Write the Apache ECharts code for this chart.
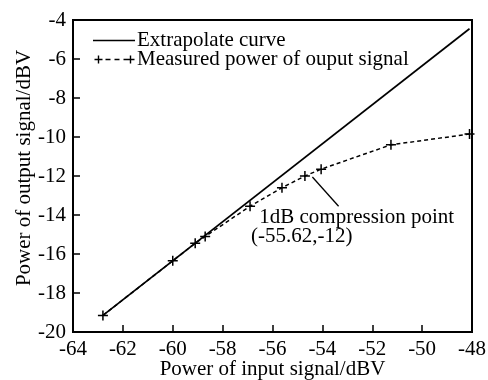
<!DOCTYPE html>
<html>
<head>
<meta charset="utf-8">
<script src="https://cdn.jsdelivr.net/npm/echarts@6/dist/echarts.min.js"></script>
<style>
  html, body { margin: 0; padding: 0; background: #fff; }
  #chart { width: 488px; height: 380px; }
</style>
</head>
<body>
<div id="chart"></div>
<script>
// values
const extrapolateX = [-62.8, -48.1];
const extrapolateY = [-19.15, -4.45];

const measuredX = [-62.8, -60, -59.1, -58.7, -56.9, -55.62, -54.7, -54.05, -51.25, -48.1];
const measuredY = [-19.15, -16.35, -15.45, -15.1, -13.55, -12.6, -12.0, -11.65, -10.4, -9.85];

const pointerX = [-54.4, -53.35];
const pointerY = [-12.05, -13.55];

const noteLines = ["1dB compression point", "(-55.62,-12)"];
const noteX = [-56.53, -56.86];
const noteY = [-14.15, -15.11];

const zip = (xs, ys) => xs.map((x, i) => [x, ys[i]]);

const FONT = "Liberation Serif";
const plus = "path://M4.25,0H5.75V4.25H10V5.75H5.75V10H4.25V5.75H0V4.25H4.25Z";

// legend icons drawn in a 42x10 box
const plusAt = (cx) =>
  `M${cx - 0.7},1H${cx + 0.7}V4.3H${cx + 4}V5.7H${cx + 0.7}V9H${cx - 0.7}V5.7H${cx - 4}V4.3H${cx - 0.7}Z`;
const solidIcon = "path://M0,0H0.01V10H0ZM0,4.2H42V5.8H0Z";
const dashIcon =
  "path://M0,0H0.01V10H0Z" + plusAt(5) + "M12,4.3H17V5.7H12ZM21,4.3H26V5.7H21ZM30,4.3H33V5.7H30Z" + plusAt(37);

const chart = echarts.init(document.getElementById("chart"), null, { renderer: "canvas" });

chart.setOption({
  animation: false,
  backgroundColor: "#fff",
  textStyle: { fontFamily: FONT, color: "#000" },
  grid: {
    left: 73,
    right: 16,
    top: 20,
    bottom: 48,
    containLabel: false,
    outerBoundsMode: "none",
    show: true,
    borderColor: "#000",
    borderWidth: 2,
  },
  legend: {
    left: 93,
    top: 30,
    padding: 0,
    orient: "vertical",
    itemWidth: 42,
    itemHeight: 10,
    itemGap: -2,
    data: [
      { name: "Extrapolate curve", icon: solidIcon },
      { name: "Measured power of ouput signal", icon: dashIcon },
    ],
    textStyle: { fontFamily: FONT, fontSize: 21, lineHeight: 19, color: "#000", padding: [0, 0, 0, -3] },
  },
  xAxis: {
    type: "value",
    min: -64,
    max: -48,
    interval: 2,
    name: "Power of input signal/dBV",
    nameLocation: "middle",
    nameGap: 27,
    nameMoveOverlap: false,
    nameTextStyle: { fontFamily: FONT, fontSize: 21, color: "#000" },
    axisLine: { lineStyle: { color: "#000", width: 2 } },
    axisTick: { inside: true, length: 7, lineStyle: { color: "#000", width: 1.5 } },
    axisLabel: { fontFamily: FONT, fontSize: 21, color: "#000", margin: 7 },
    splitLine: { show: false },
  },
  yAxis: {
    type: "value",
    min: -20,
    max: -4,
    interval: 2,
    name: "Power of output signal/dBV",
    nameLocation: "middle",
    nameGap: 38,
    nameMoveOverlap: false,
    nameTextStyle: { fontFamily: FONT, fontSize: 21, color: "#000", padding: [0, 0, 0, 16] },
    axisLine: { lineStyle: { color: "#000", width: 2 } },
    axisTick: { inside: true, length: 7, lineStyle: { color: "#000", width: 1.5 } },
    axisLabel: { fontFamily: FONT, fontSize: 21, color: "#000", margin: 7 },
    splitLine: { show: false },
  },
  series: [
    {
      name: "Extrapolate curve",
      type: "line",
      data: zip(extrapolateX, extrapolateY),
      symbol: "none",
      lineStyle: { color: "#000", width: 1.7 },
      itemStyle: { color: "#000" },
    },
    {
      name: "Measured power of ouput signal",
      type: "line",
      data: zip(measuredX, measuredY),
      symbol: plus,
      symbolSize: 10,
      lineStyle: { color: "#000", width: 1.5, type: [4, 3] },
      itemStyle: { color: "#000" },
    },
    {
      name: "pointer",
      type: "line",
      data: zip(pointerX, pointerY),
      symbol: "none",
      lineStyle: { color: "#000", width: 1.3 },
    },
  ],
});

chart.setOption({
  graphic: noteLines.map((t, i) => {
    const [px, py] = chart.convertToPixel({ gridIndex: 0 }, [noteX[i], noteY[i]]);
    return {
      type: "text",
      left: px,
      top: py - 11,
      style: { text: t, fontFamily: FONT, fontSize: 21, fill: "#000" },
    };
  }),
});
</script>
</body>
</html>
